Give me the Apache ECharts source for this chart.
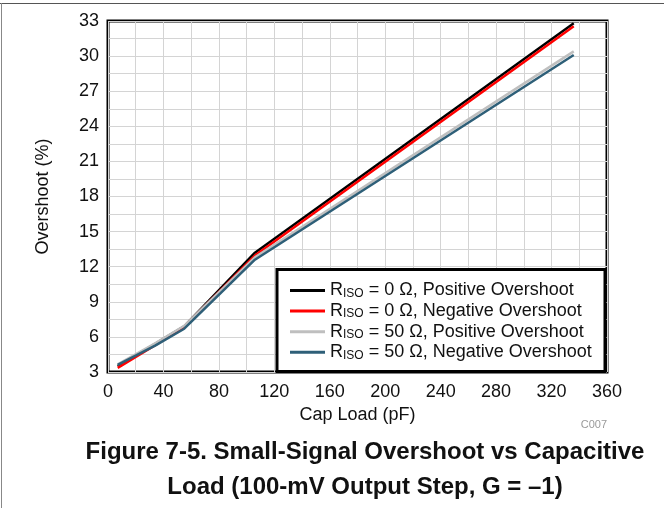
<!DOCTYPE html>
<html>
<head>
<meta charset="utf-8">
<script src="https://cdn.jsdelivr.net/npm/echarts@6/dist/echarts.min.js"></script>
<style>
  html, body { margin: 0; padding: 0; background: #fff; }
  #chart { width: 664px; height: 508px; }
</style>
</head>
<body>
<div id="chart"></div>
<script>
// cap load (pF) at each measured point
const capLoad = [7, 34, 55, 106, 336]

// overshoot (%) per curve
const riso0Pos = [3.5, 5.4, 6.9, 13.2, 32.8]
const riso0Neg = [3.35, 5.3, 6.85, 12.95, 32.55]
const riso50Pos = [3.65, 5.45, 6.95, 12.8, 30.4]
const riso50Neg = [3.6, 5.25, 6.7, 12.6, 30.1]

const seriesNames = [
  'RISO = 0 Ω, Positive Overshoot',
  'RISO = 0 Ω, Negative Overshoot',
  'RISO = 50 Ω, Positive Overshoot',
  'RISO = 50 Ω, Negative Overshoot',
]
const seriesColors = ['#000000', '#ff0000', '#bfbfbf', '#2e5f78']
const seriesData = [riso0Pos, riso0Neg, riso50Pos, riso50Neg]

const font = '"Liberation Sans", Arial, sans-serif'
const chart = echarts.init(document.getElementById('chart'))

const pair = (ys) => capLoad.map((x, i) => [x, ys[i]])

chart.setOption({
  animation: false,
  backgroundColor: '#fff',
  grid: {
    left: 108, top: 21, width: 499, height: 351,
    show: true, borderColor: '#000', borderWidth: 3,
  },
  xAxis: {
    type: 'value', min: 0, max: 360, interval: 40,
    name: 'Cap Load (pF)', nameLocation: 'middle', nameGap: 31,
    nameTextStyle: { color: '#111', fontSize: 18, fontFamily: font },
    axisLine: { show: false }, axisTick: { show: false },
    axisLabel: { color: '#111', fontSize: 18, fontFamily: font, margin: 11 },
    splitLine: { lineStyle: { color: '#d4d4d4', width: 1 } },
    minorTick: { show: false, splitNumber: 2 },
    minorSplitLine: { show: true, lineStyle: { color: '#d4d4d4', width: 1 } },
  },
  yAxis: {
    type: 'value', min: 3, max: 33, interval: 3,
    name: 'Overshoot (%)', nameLocation: 'middle', nameGap: 56,
    nameTextStyle: { color: '#111', fontSize: 18, fontFamily: font },
    axisLine: { show: false }, axisTick: { show: false },
    axisLabel: { color: '#111', fontSize: 18, fontFamily: font, margin: 9 },
    splitLine: { lineStyle: { color: '#d4d4d4', width: 1 } },
    minorTick: { show: false, splitNumber: 2 },
    minorSplitLine: { show: true, lineStyle: { color: '#d4d4d4', width: 1 } },
  },
  legend: {
    orient: 'vertical', left: 285, top: 276.5, z: 20,
    icon: 'rect', itemWidth: 35, itemHeight: 3, itemGap: 2.6,
    data: seriesNames,
    formatter: (name) => '{r|R}{s|ISO}{r|' + name.slice(4) + '}',
    textStyle: {
      color: '#111', fontFamily: font,
      rich: {
        r: { fontSize: 18, fontFamily: font, color: '#111', lineHeight: 18 },
        s: { fontSize: 12, fontFamily: font, color: '#111', lineHeight: 14, verticalAlign: 'bottom', padding: [5, 0, 0, 0] },
      },
    },
  },
  graphic: [
    { type: 'line', shape: { x1: 0, y1: 3.5, x2: 664, y2: 3.5 }, style: { stroke: '#555', lineWidth: 1 } },
    { type: 'line', shape: { x1: 1.5, y1: 3, x2: 1.5, y2: 508 }, style: { stroke: '#888', lineWidth: 1 } },
    { type: 'rect', z: 10, shape: { x: 277, y: 269.5, width: 328, height: 102 }, style: { fill: '#fff', stroke: '#000', lineWidth: 3 } },
    { type: 'text', x: 607, y: 419, style: { text: 'C007', fill: '#9a9a9a', font: '11px ' + font, textAlign: 'right' } },
    { type: 'text', x: 365, y: 452, style: { text: 'Figure 7-5. Small-Signal Overshoot vs Capacitive', fill: '#111', font: 'bold 24px ' + font, textAlign: 'center', textVerticalAlign: 'middle' } },
    { type: 'text', x: 365, y: 487, style: { text: 'Load (100-mV Output Step, G = –1)', fill: '#111', font: 'bold 24px ' + font, textAlign: 'center', textVerticalAlign: 'middle' } },
  ],
  series: seriesNames.map((name, i) => ({
    name,
    type: 'line',
    data: pair(seriesData[i]),
    showSymbol: false,
    symbol: 'none',
    color: seriesColors[i],
    lineStyle: { color: seriesColors[i], width: 2.5 },
    z: 2 + i,
  })),
})
</script>
</body>
</html>
